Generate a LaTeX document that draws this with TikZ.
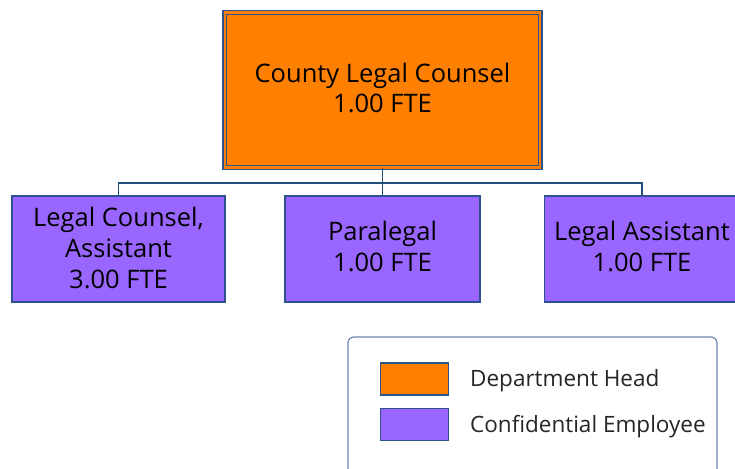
\documentclass[tikz,border=0pt]{standalone}
\usepackage{fontspec}
\setmainfont{Open Sans}
\usetikzlibrary{calc}
\definecolor{headfill}{HTML}{FF8000}
\definecolor{stafffill}{HTML}{9966FF}
\definecolor{edgeblue}{HTML}{2F528F}
\definecolor{linkblue}{HTML}{1F4E79}
\tikzset{
  x=1pt, y=1pt,
  headbox/.style={draw=edgeblue, line width=1.5pt, double=headfill, double distance=2.4pt,
    fill=headfill, minimum width=315.5pt, minimum height=155pt, inner sep=0pt,
    align=center, font=\fontsize{25.5}{30}\selectfont},
  staffbox/.style={draw=edgeblue, line width=1.6pt, fill=stafffill, minimum height=106pt,
    inner sep=0pt, align=center, font=\fontsize{25.5}{31}\selectfont},
  link/.style={draw=linkblue, line width=1.9pt},
  legendframe/.style={draw=edgeblue!70, line width=1.2pt, rounded corners=6pt},
  swatch/.style={draw=edgeblue, line width=1.2pt, minimum width=68pt, minimum height=32pt, inner sep=0pt},
  legendtext/.style={anchor=west, inner sep=0pt, font=\fontsize{22.5}{25}\selectfont, text=black!85}
}
% lift a centred multi-line label inside its box, keeping the box centred
\newcommand{\liftlabel}[3]{\raisebox{#1}[\height][\depth]{\parbox{#2}{\centering #3}}}
\begin{document}
\begin{tikzpicture}
  \useasboundingbox (0,0) rectangle (735,468);

  % department head
  \node[headbox] (head) at (382.5,378) {\liftlabel{2pt}{300pt}{County Legal Counsel\\1.00 FTE}};

  % staff positions
  \node[staffbox, minimum width=213pt] (counsel) at (118.5,219) {\liftlabel{1.5pt}{205pt}{Legal Counsel,\\Assistant\\3.00 FTE}};
  \node[staffbox, minimum width=195pt] (para) at (382.5,219) {\liftlabel{3pt}{190pt}{Paralegal\\1.00 FTE}};
  \node[staffbox, minimum width=195pt] (assist) at (642,219) {\liftlabel{3pt}{190pt}{Legal Assistant\\1.00 FTE}};

  % reporting lines
  \coordinate (bus) at (382.5,285);
  \draw[link] (head.south) -- (para.north);
  \draw[link] (counsel.north) |- (bus);
  \draw[link] (assist.north) |- (bus);

  % legend
  \begin{scope}
    \clip (0,0) rectangle (735,468);
    \draw[legendframe] (348,-20) rectangle (717,131);
  \end{scope}
  \node[swatch, fill=headfill] (keyhead) at (414.5,89) {};
  \node[swatch, fill=stafffill] (keystaff) at (414.5,43.5) {};
  \node[legendtext] (keyheadtext) at (470,87) {Department Head};
  \node[legendtext] (keystafftext) at (470,41.5) {Confidential Employee};
\end{tikzpicture}
\end{document}
